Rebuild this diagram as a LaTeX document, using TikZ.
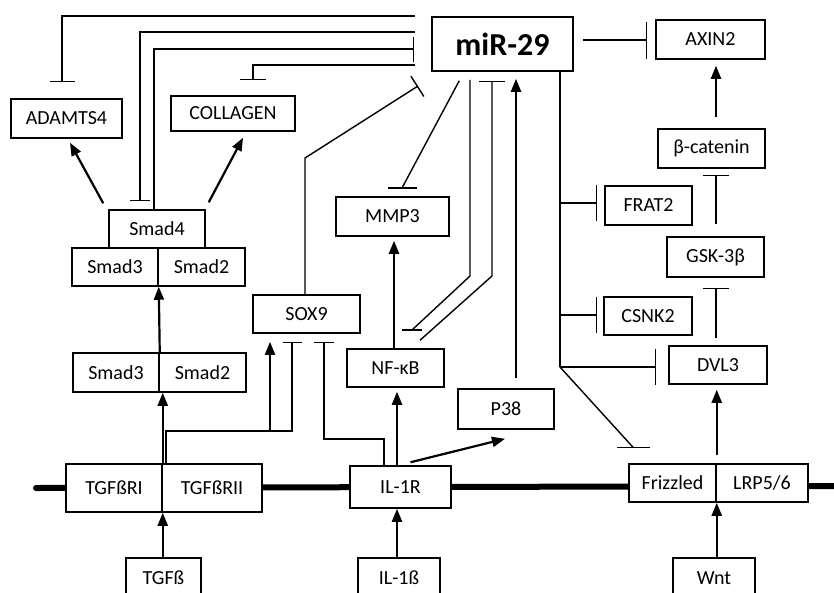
\documentclass[tikz,border=0pt]{standalone}
\usepackage{fontspec}
\setmainfont{Carlito}
\usetikzlibrary{arrows.meta,calc}
\newcommand\diaglbl{\fontsize{20}{23}\selectfont}
\newcommand\mirlbl{\fontsize{32}{36}\selectfont\bfseries}
\begin{document}
\begin{tikzpicture}[x=1pt,y=-1pt,
  box/.style={draw, line width=1.5pt, fill=white, inner sep=0pt, font=\diaglbl},
  ln/.style={line width=1.4pt},
  inh/.style={line width=1.4pt, -{Bar[width=25pt]}},
  act/.style={line width=2.2pt, -{Triangle[length=13pt,width=10pt]}}]
\useasboundingbox (0,0) rectangle (834,592);
% membrane
\draw[line width=6pt, line cap=round] (36,488) -- (834,486);
% nodes
\node[box, minimum width=141pt, minimum height=54pt, font=\mirlbl] (mir) at (502.5,44) {miR-29};
\node[box, minimum width=109pt, minimum height=39pt] (axin) at (710.5,39.5) {AXIN2};
\node[box, minimum width=111pt, minimum height=39pt] (adamts) at (66.5,118.5) {ADAMTS4};
\node[box, minimum width=124pt, minimum height=35pt] (collagen) at (233,113.5) {COLLAGEN};
\node[box, minimum width=107pt, minimum height=39pt] (bcat) at (711.5,148.5) {β-catenin};
\node[box, minimum width=96pt, minimum height=38pt] (smad4) at (157,229) {Smad4};
\node[box, minimum width=86pt, minimum height=38pt] (s3a) at (115,267) {Smad3};
\node[box, minimum width=87pt, minimum height=38pt] (s2a) at (201.5,267) {Smad2};
\node[box, minimum width=113pt, minimum height=39pt] (mmp3) at (392.5,216.5) {MMP3};
\node[box, minimum width=87pt, minimum height=39pt] (frat2) at (648.5,205.5) {FRAT2};
\node[box, minimum width=97pt, minimum height=40pt] (gsk) at (715.5,257) {GSK-3β};
\node[box, minimum width=107pt, minimum height=38pt] (sox9) at (306.5,314) {SOX9};
\node[box, minimum width=88pt, minimum height=38pt] (csnk2) at (648,316) {CSNK2};
\node[box, minimum width=98pt, minimum height=38pt] (dvl3) at (718,365) {DVL3};
\node[box, minimum width=97pt, minimum height=38pt] (nfkb) at (395.5,368) {NF-κB};
\node[box, minimum width=86pt, minimum height=39pt] (s3b) at (116,372.5) {Smad3};
\node[box, minimum width=87pt, minimum height=39pt] (s2b) at (202.5,372.5) {Smad2};
\node[box, minimum width=96pt, minimum height=40pt] (p38) at (506,409) {P38};
\node[box, minimum width=96pt, minimum height=48pt] (t1) at (114,488) {TGFßRI};
\node[box, minimum width=100pt, minimum height=48pt] (t2) at (212,488) {TGFßRII};
\node[box, minimum width=101pt, minimum height=42pt] (il1r) at (400.5,487) {IL-1R};
\node[box, minimum width=87pt, minimum height=38pt] (fz) at (672.5,483) {Frizzled};
\node[box, minimum width=92pt, minimum height=38pt] (lrp) at (762,483) {LRP5/6};
\node[box, minimum width=75pt, minimum height=40pt] (tgfb) at (163.5,578) {TGFß};
\node[box, minimum width=82pt, minimum height=40pt] (il1b) at (399,578) {IL-1ß};
\node[box, minimum width=82pt, minimum height=40pt] (wnt) at (714,578) {Wnt};
% free ends
\coordinate (mA) at (415,16);
\coordinate (mS) at (415,32);
\coordinate (mC) at (415,65);
\coordinate (mSox) at (418,86);
\coordinate (mAx) at (583,40);
\coordinate (tj) at (166,464);
% top-left inhibitions
\draw[inh, shorten >=16pt] (mA) -| (adamts.north -| 62,0);
\draw[inh, shorten >=8pt, -{Bar[width=20pt]}] (mS) -| (smad4.north -| 140,0);
\draw[inh, shorten >=17pt] (smad4.north -| 154,0) |- (mir.west |- 0,49);
\draw[inh, shorten >=15pt, -{Bar[width=26pt]}] (mC) -| (collagen.north -| 253,0);
\draw[inh, -{Bar[width=24pt]}] (sox9.north -| 305,0) -- (305,158) -- (mSox);
\draw[inh, shorten >=8pt, -{Bar[width=37pt]}] (mAx) -- (axin.west |- mAx);
% Smad activations
\draw[act] ($(smad4.north west)+(-5,-6)$) -- ($(adamts.south)+(3.5,4)$);
\draw[act] ($(smad4.north east)+(3,-7)$) -- ($(collagen.south)+(10,6)$);
\draw[act] (s3b.north east) -- (s3a.south east);
\draw[act] (t1.north east) -- (t1.north east |- s3b.south);
% TGFbR -> SOX9
\draw[inh, shorten >=8pt, -{Bar[width=19pt]}] (tj) |- (292,431) -- (sox9.south -| 292,0);
\draw[act, shorten >=8pt] (270,431) -- (sox9.south -| 270,0);
% IL-1R
\draw[inh, shorten >=8pt, -{Bar[width=20pt]}] (il1r.north -| 384,0) |- (324,439) -- (sox9.south -| 324,0);
\draw[act, shorten >=4pt] (il1r.north -| 397,0) -- (nfkb.south -| 397,0);
\draw[act] ($(il1r.north)+(10,-3)$) -- ($(p38.south)+(-1,9)$);
\draw[act, shorten >=4pt] (nfkb.north -| 394,0) -- (mmp3.south -| 394,0);
% miR-29 <-> MMP3 / NF-kB / P38
\draw[ln] ($(mir.south west)+(28,9)$) coordinate (mM) -- (402,188) coordinate (bM);
\draw[ln] ($(bM)+(-14,0)$) -- ($(bM)+(15,0)$);
\draw[ln] (mir.south -| 470,0) ++(0,8) -- (470,276) -- (412,330) coordinate (bN);
\draw[ln] ($(bN)+(-10,0)$) -- ($(bN)+(10,0)$);
\draw[inh, -{Bar[width=26pt]}, shorten >=9pt] ($(nfkb.north)+(24.5,-8)$) -- (492,276) -- (mir.south -| 492,0);
\draw[act, shorten >=7pt, shorten <=10pt] (p38.north -| 516,0) -- (mir.south -| 516,0);
% miR-29 -> Wnt branch
\draw[ln] (mir.south -| 560,0) -- (560,367) coordinate (bj);
\draw[inh, -{Bar[width=36pt]}, shorten >=7pt] (560,203) -- (frat2.west |- 0,203);
\draw[inh, -{Bar[width=36pt]}, shorten >=6pt] (560,315) -- (csnk2.west |- 0,315);
\draw[inh, -{Bar[width=36pt]}, shorten >=12pt] (bj) -- (dvl3.west |- bj);
\draw[ln] (bj) -- ($(fz.north)+(-39.5,-16)$) coordinate (bF);
\draw[ln] ($(bF)+(-16,0)$) -- ($(bF)+(17,0)$);
% Wnt pathway
\draw[inh, -{Bar[width=26pt]}, shorten <=7pt, shorten >=10pt] (dvl3.north -| 716,0) -- (gsk.south -| 716,0);
\draw[inh, -{Bar[width=26pt]}, shorten <=12pt, shorten >=6pt] (gsk.north -| 716,0) -- (bcat.south -| 716,0);
\draw[act, shorten <=11pt, shorten >=6pt] (bcat.north -| 716,0) -- (axin.south -| 716,0);
\draw[act, shorten <=8pt, shorten >=5pt] (fz.north east) -- (dvl3.south -| fz.north east);
% ligands
\draw[act] (tgfb.north -| t1.south east) -- (t1.south east);
\draw[act] (il1b.north -| 397,0) -- (il1r.south -| 397,0);
\draw[act] (wnt.north -| fz.south east) -- (fz.south east);
\end{tikzpicture}
\end{document}
